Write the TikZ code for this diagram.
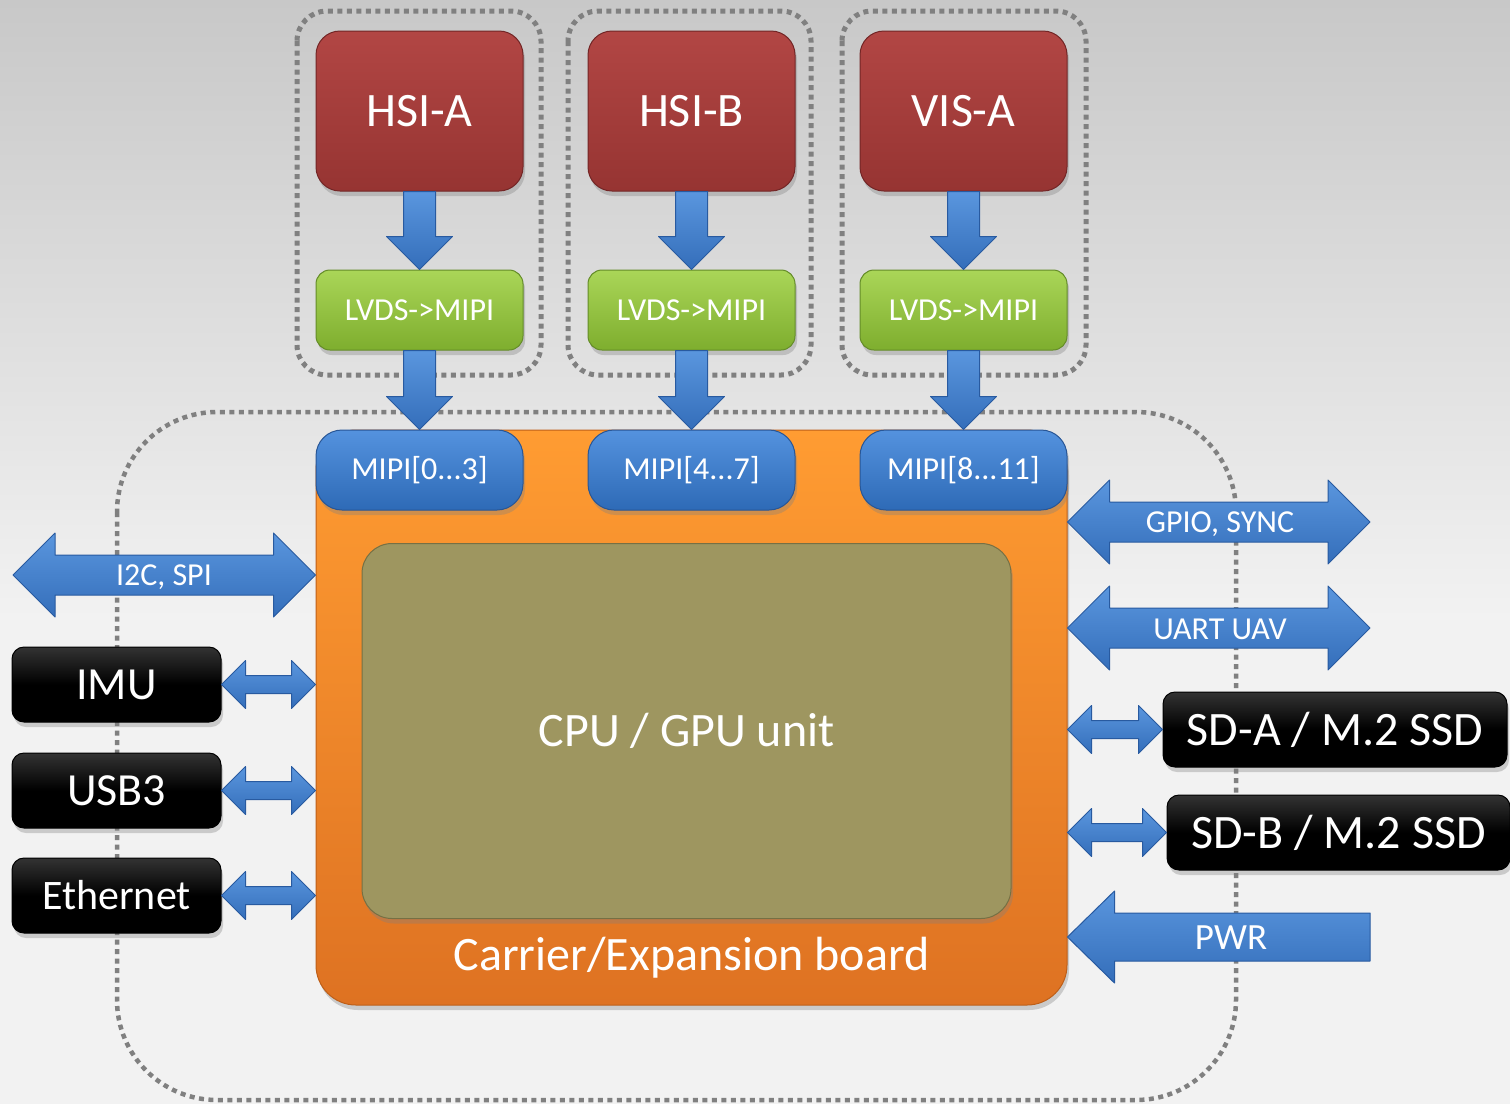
\documentclass[tikz,border=0pt]{standalone}
\usepackage{fontspec}
\setmainfont{Carlito}
\usetikzlibrary{calc,shadows}
\definecolor{bgT}{RGB}{200,200,200}
\definecolor{bgB}{RGB}{242,242,242}
\definecolor{frameC}{RGB}{128,128,128}
\definecolor{redT}{RGB}{178,70,68}
\definecolor{redB}{RGB}{150,52,50}
\definecolor{redD}{RGB}{115,38,38}
\definecolor{grnT}{RGB}{170,214,88}
\definecolor{grnB}{RGB}{126,174,46}
\definecolor{grnD}{RGB}{100,140,40}
\definecolor{bluT}{RGB}{84,146,222}
\definecolor{bluB}{RGB}{46,106,182}
\definecolor{bluD}{RGB}{40,86,150}
\definecolor{orgT}{RGB}{255,156,50}
\definecolor{orgB}{RGB}{222,114,34}
\definecolor{orgD}{RGB}{190,95,25}
\definecolor{oliv}{RGB}{158,150,96}
\definecolor{olivD}{RGB}{118,112,68}
\definecolor{arrT}{RGB}{90,150,222}
\definecolor{arrB}{RGB}{52,110,186}
\definecolor{arrD}{RGB}{40,90,160}
\tikzset{
  every node/.style={text=white},
  shad/.style={drop shadow={opacity=0.35,shadow xshift=2pt,shadow yshift=-5pt}},
  bigfont/.style={font=\fontsize{48}{52}\selectfont},
  smallfont/.style={font=\fontsize{32}{36}\selectfont},
  redbox/.style={shad,rounded corners=24pt,top color=redT,bottom color=redB,draw=redD,line width=1pt,
    minimum width=207pt,minimum height=160pt,inner sep=0pt,bigfont},
  grnbox/.style={shad,rounded corners=14pt,top color=grnT,bottom color=grnB,draw=grnD,line width=1pt,
    minimum width=207pt,minimum height=80pt,inner sep=0pt,smallfont},
  blubox/.style={shad,rounded corners=26pt,top color=bluT,bottom color=bluB,draw=bluD,line width=1pt,
    minimum width=207pt,minimum height=80pt,inner sep=0pt,smallfont},
  blkbox/.style={shad,rounded corners=12pt,top color=black!80,bottom color=black,middle color=black,draw=black,line width=1pt,
    minimum height=75pt,inner sep=0pt,bigfont},
  dotframe/.style={draw=frameC,line width=5pt,dash pattern=on 5pt off 4.5pt},
  arrowstyle/.style={top color=arrT,bottom color=arrB,draw=arrD,line width=1pt,line join=round},
  lbl/.style={inner sep=0pt,smallfont},
}
\newcommand\arrdown[2]{%
  \path[arrowstyle] let \p1=(#1.south), \p2=(#2.north) in
    (\x1-16pt,\y1) -- (\x1+16pt,\y1) -- (\x1+16pt,\y2+33pt) -- (\x1+33pt,\y2+33pt) -- (\x1,\y2)
    -- (\x1-33pt,\y2+33pt) -- (\x1-16pt,\y2+33pt) -- cycle;}
\newcommand\arrdbl[5]{%
  \path[arrowstyle] let \p1=(#1), \p2=(#2) in
    (\x1,\y1) -- (\x1+#5,\y1+#4) -- (\x1+#5,\y1+#3) -- (\x2-#5,\y1+#3) -- (\x2-#5,\y1+#4) -- (\x2,\y1)
    -- (\x2-#5,\y1-#4) -- (\x2-#5,\y1-#3) -- (\x1+#5,\y1-#3) -- (\x1+#5,\y1-#4) -- cycle;}
\begin{document}
\begin{tikzpicture}[x=1pt,y=-1pt]
\useasboundingbox (0,0) rectangle (1510,1104);
% background
\fill[bgB] (0,0) rectangle (1510,1104);
\shade[top color=bgT,bottom color=bgB] (0,0) rectangle (1510,620);
% dotted frames
\draw[dotframe,rounded corners=30pt] (297,11) rectangle (541,375);
\draw[dotframe,rounded corners=30pt] (568,11) rectangle (811,375);
\draw[dotframe,rounded corners=30pt] (842,11) rectangle (1086,375);
\draw[dotframe,line width=4.5pt,rounded corners=100pt] (117,412) rectangle (1236,1100);
% sensors
\node[redbox] (hsia) at (419.5,111) {HSI-A};
\node[redbox] (hsib) at (691.5,111) {HSI-B};
\node[redbox] (visa) at (963.5,111) {VIS-A};
\node[grnbox] (lvdsa) at (419.5,310) {LVDS->MIPI};
\node[grnbox] (lvdsb) at (691.5,310) {LVDS->MIPI};
\node[grnbox] (lvdsc) at (963.5,310) {LVDS->MIPI};
% board
\node[shad,rounded corners=40pt,top color=orgT,bottom color=orgB,draw=orgD,line width=1pt,
  minimum width=751pt,minimum height=575pt,inner sep=0pt] (board) at (691.5,717.5) {};
\node[shad,rounded corners=30pt,fill=oliv,draw=olivD,line width=1pt,minimum width=649pt,minimum height=375pt,
  inner sep=0pt,bigfont] (cpu) at (686.5,731) {CPU / GPU unit};
\node[inner sep=0pt,bigfont] (boardlbl) at (691.5,958) {Carrier/Expansion board};
\node[blubox] (mipia) at (419.5,470) {MIPI[0...3]};
\node[blubox] (mipib) at (691.5,470) {MIPI[4...7]};
\node[blubox] (mipic) at (963.5,470) {MIPI[8...11]};
% down arrows
\arrdown{hsia}{lvdsa}
\arrdown{hsib}{lvdsb}
\arrdown{visa}{lvdsc}
\arrdown{lvdsa}{mipia}
\arrdown{lvdsb}{mipib}
\arrdown{lvdsc}{mipic}
% left side
\node[blkbox,minimum width=209pt,font=\fontsize{46}{50}\selectfont] (imu) at (116.5,684.5) {IMU};
\node[blkbox,minimum width=209pt,font=\fontsize{46}{50}\selectfont] (usb) at (116.5,790.5) {USB3};
\node[blkbox,minimum width=209pt,font=\fontsize{42}{46}\selectfont] (eth) at (116.5,895.5) {Ethernet};
\coordinate (i2cL) at (13,575);
\arrdbl{i2cL}{i2cL -| board.west}{20pt}{42pt}{42pt}
\node[lbl] (i2clbl) at (164,577) {I2C, SPI};
\arrdbl{imu.east}{imu.east -| board.west}{9pt}{24pt}{24pt}
\arrdbl{usb.east}{usb.east -| board.west}{9pt}{24pt}{24pt}
\arrdbl{eth.east}{eth.east -| board.west}{9pt}{24pt}{24pt}
% right side
\coordinate (gpioR) at (1370,522);
\coordinate (uartR) at (1370,628);
\arrdbl{gpioR -| board.east}{gpioR}{20pt}{42pt}{42pt}
\node[lbl] (gpiolbl) at (1220,524) {GPIO, SYNC};
\arrdbl{uartR -| board.east}{uartR}{20pt}{42pt}{42pt}
\node[lbl] (uartlbl) at (1220,629) {UART UAV};
\node[blkbox,minimum width=344pt] (sda) at (1335,729.5) {SD-A / M.2 SSD};
\node[blkbox,minimum width=343pt] (sdb) at (1338.5,832.5) {SD-B / M.2 SSD};
\arrdbl{sda.west -| board.east}{sda.west}{9pt}{24pt}{24pt}
\arrdbl{sdb.west -| board.east}{sdb.west}{9pt}{24pt}{24pt}
\coordinate (pwrR) at (1370,937);
\path[arrowstyle] let \p1=(pwrR -| board.east), \p2=(pwrR) in
  (\x1,\y1) -- (\x1+47pt,\y1+46pt) -- (\x1+47pt,\y1+24pt) -- (\x2,\y1+24pt) -- (\x2,\y1-24pt)
  -- (\x1+47pt,\y1-24pt) -- (\x1+47pt,\y1-46pt) -- cycle;
\node[lbl,font=\fontsize{37}{40}\selectfont] (pwrlbl) at (1231,938) {PWR};
\end{tikzpicture}
\end{document}
